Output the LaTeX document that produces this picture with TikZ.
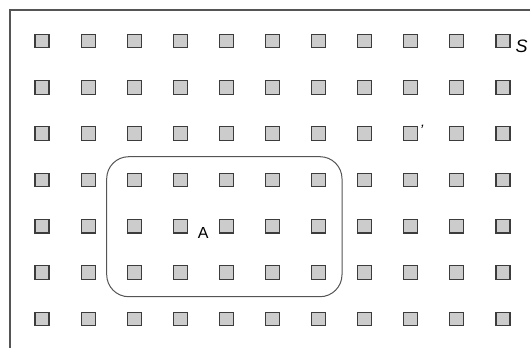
\documentclass[tikz,border=0pt]{standalone}
\usepackage{fontspec}
\setmainfont{Liberation Sans}
\definecolor{sqfill}{HTML}{CCCCCC}
\definecolor{sqdraw}{HTML}{3C3C3C}
\definecolor{framec}{HTML}{555555}
\begin{document}
\begin{tikzpicture}[x=1pt,y=-1pt,
  cell/.style={draw=sqdraw,fill=sqfill,line width=1.1pt,minimum width=14pt,minimum height=13.5pt,inner sep=0pt},
  region/.style={draw=framec,line width=1pt,rounded corners=22pt},
  framel/.style={draw=framec,line width=1.4pt},
  lbl/.style={inner sep=0pt,font=\fontsize{16}{16}\selectfont}]
\useasboundingbox (0,0) rectangle (530,348);
\coordinate (ftr) at (530,10);
\coordinate (ftl) at (10,10);
\coordinate (fbl) at (10,348);
\draw[framel] (ftr) -- (ftl) -- (fbl);
\foreach \i in {0,...,10}{
  \foreach \j in {0,...,6}{
    \node[cell] (s-\i-\j) at ({42+46.1*\i},{41+46.3*\j}) {};
  }
}
\draw[region] (106.7,156.7) rectangle (342,296.7);
\node[lbl] (A) at (203.3,232.5) {A};
\node[lbl,font=\fontsize{18}{18}\selectfont\itshape] (S) at (521.5,46.5) {S};
\node[lbl,font=\fontsize{15}{15}\selectfont\itshape] (P) at (421.5,130) {'};
\end{tikzpicture}
\end{document}
